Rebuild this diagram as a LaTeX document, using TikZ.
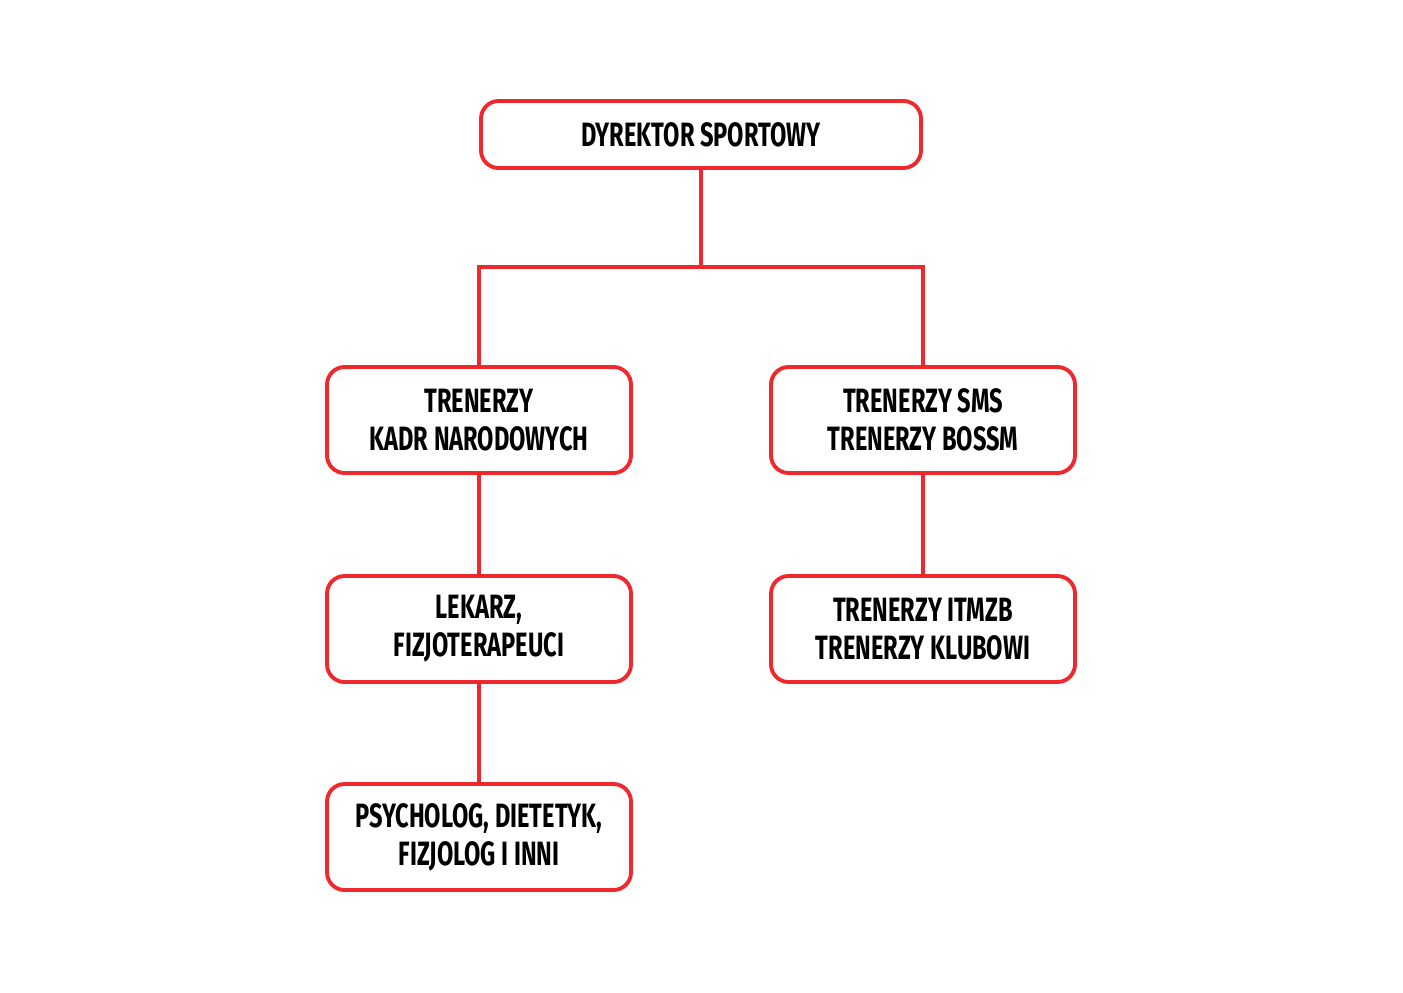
\documentclass[tikz,border=0pt]{standalone}
\usepackage{fontspec}
\setmainfont{Fira Sans}[FakeStretch=0.70]
\definecolor{orgred}{RGB}{238,40,44}
\begin{document}
\begin{tikzpicture}[every node/.style={font=\bfseries\fontsize{9.6}{10.8}\selectfont},
  box/.style={draw=orgred,line width=1.1pt,rounded corners=5pt,minimum width=3.04cm,minimum height=1.06cm,align=center,fill=white},
  link/.style={draw=orgred,line width=1.1pt}]
\useasboundingbox (0,0) rectangle (14.03,9.92);
\node[box,minimum width=4.40cm,minimum height=0.67cm] (dyr) at (7.01,8.575) {DYREKTOR SPORTOWY};
\node[box] (kadr) at (4.79,5.72) {TRENERZY\\ KADR NARODOWYCH};
\node[box] (sms) at (9.23,5.72) {TRENERZY SMS\\ TRENERZY BOSSM};
\node[box] (lek) at (4.79,3.63) {LEKARZ,\\ FIZJOTERAPEUCI};
\node[box] (itm) at (9.23,3.63) {TRENERZY ITMZB\\ TRENERZY KLUBOWI};
\node[box] (psy) at (4.79,1.55) {PSYCHOLOG, DIETETYK,\\ FIZJOLOG I INNI};
\coordinate (split) at (7.01,7.25);
% connectors
\draw[link] (dyr.south) -- (split); \draw[link] (split) -| (kadr.north); \draw[link] (split) -| (sms.north);
\draw[link] (kadr) -- (lek); \draw[link] (lek) -- (psy); \draw[link] (sms) -- (itm);
\end{tikzpicture}
\end{document}
